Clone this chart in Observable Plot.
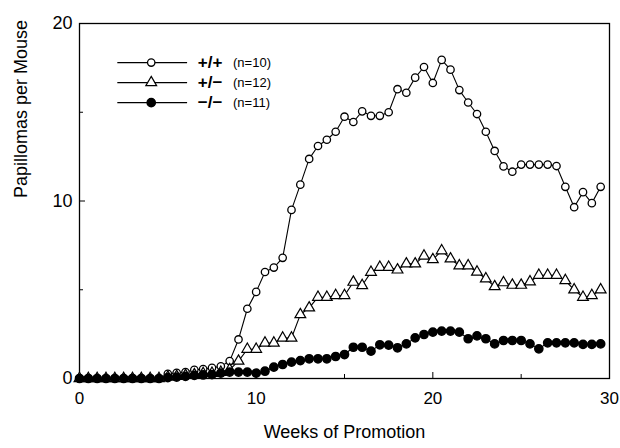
<!DOCTYPE html>
<html><head><meta charset="utf-8">
<script src="https://cdn.jsdelivr.net/npm/d3@7"></script>
<script src="https://cdn.jsdelivr.net/npm/@observablehq/plot@0.6"></script>
<style>body{margin:0;background:#fff} svg{display:block}</style>
</head><body><div id="chart"></div>
<script>
const weeks = [0,0.5,1,1.5,2,2.5,3,3.5,4,4.5,5,5.5,6,6.5,7,7.5,8,8.5,9,9.5,10,10.5,11,11.5,12,12.5,13,13.5,14,14.5,15,15.5,16,16.5,17,17.5,18,18.5,19,19.5,20,20.5,21,21.5,22,22.5,23,23.5,24,24.5,25,25.5,26,26.5,27,27.5,28,28.5,29,29.5];
const wildType = [0,0,0,0,0,0,0,0,0,0,0.26,0.32,0.36,0.49,0.53,0.6,0.69,0.98,2.2,3.93,4.88,6.0,6.25,6.8,9.5,10.92,12.37,13.1,13.45,13.9,14.75,14.45,15.05,14.8,14.8,15.0,16.3,16.1,16.95,17.55,16.65,17.95,17.4,16.25,15.55,14.9,13.9,12.82,11.95,11.65,12.05,12.05,12.05,12.05,11.97,10.8,9.65,10.5,9.88,10.8];
const heterozygous = [0,0,0,0,0,0,0,0,0,0,0.08,0.12,0.18,0.22,0.28,0.3,0.35,0.5,0.98,1.65,1.65,2.0,2.0,2.28,2.28,3.6,3.98,4.58,4.58,4.68,4.68,5.43,5.24,5.99,6.27,6.27,6.12,6.46,6.46,6.9,6.7,7.2,6.74,6.35,6.35,6.0,5.62,5.18,5.4,5.26,5.26,5.45,5.82,5.82,5.82,5.52,5.0,4.58,4.68,5.0];
const knockout = [0,0,0,0,0,0,0,0,0,0,0.05,0.08,0.12,0.18,0.2,0.22,0.3,0.36,0.36,0.36,0.3,0.41,0.64,0.79,0.92,1.01,1.11,1.11,1.11,1.24,1.35,1.76,1.76,1.54,1.9,1.88,1.73,1.95,2.29,2.48,2.61,2.67,2.67,2.61,2.24,2.4,2.24,1.95,2.14,2.14,2.14,1.95,1.67,2.01,2.01,2.01,2.01,1.92,1.92,1.95];
const genotypeLabels = ["+/+", "+/\u2212", "\u2212/\u2212"];
const groupSizes = ["(n=10)", "(n=12)", "(n=11)"];
const xTickLabels = [0, 10, 20, 30];
const xMinorTicks = [5, 15, 25];
const yTickLabels = [0, 10, 20];
const yMinorTicks = [5, 15];
const xTitle = "Weeks of Promotion";
const yTitle = "Papillomas per Mouse";

// layout
const W = 620, H = 448, mL = 79, mR = 11, mT = 23, mB = 70;
const plotW = W - mL - mR, plotH = H - mT - mB;
const font = "'Liberation Sans', Arial, Helvetica, sans-serif";

const toRows = (vals) => weeks.map((w, i) => ({week: w, value: vals[i]}));
const wtRows = toRows(wildType), hetRows = toRows(heterozygous), koRows = toRows(knockout);

// legend layout (data units)
const legendRows = genotypeLabels.map((g, i) => ({label: g, n: groupSizes[i], row: i}));
const legTop = 17.8, legStep = 1.13;
const legY = d => legTop - d.row * legStep;
const lineOpts = {x: "week", y: "value", stroke: "black", strokeWidth: 1.1};

const chart = Plot.plot({
  width: W, height: H,
  marginLeft: mL, marginRight: mR, marginTop: mT, marginBottom: mB,
  x: {domain: [0, 30]},
  y: {domain: [0, 20]},
  style: {fontFamily: font, fontSize: "18px", color: "black", background: "white"},
  marks: [
    Plot.frame({stroke: "black", strokeWidth: 1.3}),
    Plot.ruleX(xTickLabels, {x: d => d, insetTop: plotH - 6, stroke: "black"}),
    Plot.ruleX(xMinorTicks, {x: d => d, insetTop: plotH - 4, stroke: "black"}),
    Plot.ruleY(yTickLabels, {y: d => d, insetRight: plotW - 6, stroke: "black"}),
    Plot.ruleY(yMinorTicks, {y: d => d, insetRight: plotW - 4, stroke: "black"}),
    Plot.axisX({ticks: xTickLabels, tickSize: 0, tickPadding: 13, label: null, fontSize: 17}),
    Plot.axisY({ticks: yTickLabels, tickSize: 0, tickPadding: 7, label: null, fontSize: 18}),
    Plot.text([xTitle], {frameAnchor: "bottom", dy: 59, text: d => d, fontSize: 18}),
    Plot.text([yTitle], {frameAnchor: "left", dx: -58, dy: -3, rotate: -90, text: d => d, fontSize: 18}),
    // series
    Plot.line(wtRows, lineOpts),
    Plot.dot(wtRows, {x: "week", y: "value", r: 3.7, fill: "white", stroke: "black", strokeWidth: 1.3}),
    Plot.line(hetRows, lineOpts),
    Plot.dot(hetRows, {x: "week", y: "value", symbol: "triangle", r: 4, fill: "white", stroke: "black", strokeWidth: 1.2}),
    Plot.line(koRows, lineOpts),
    Plot.dot(koRows, {x: "week", y: "value", r: 4.1, fill: "black", stroke: "black"}),
    // legend
    Plot.link(legendRows, {x1: () => 2.14, x2: () => 6.09, y1: legY, y2: legY, stroke: "black", strokeWidth: 1.2}),
    Plot.dot(legendRows.filter(d => d.row === 0), {x: () => 4.06, y: legY, r: 3.7, fill: "white", stroke: "black", strokeWidth: 1.3}),
    Plot.dot(legendRows.filter(d => d.row === 1), {x: () => 4.06, y: legY, symbol: "triangle", r: 4, fill: "white", stroke: "black", strokeWidth: 1.2}),
    Plot.dot(legendRows.filter(d => d.row === 2), {x: () => 4.06, y: legY, r: 4.1, fill: "black", stroke: "black"}),
    Plot.text(legendRows, {x: () => 6.7, y: legY, text: "label", textAnchor: "start", fontWeight: "bold", fontSize: 17}),
    Plot.text(legendRows, {x: () => 8.69, y: legY, text: "n", textAnchor: "start", fontSize: 13})
  ]
});
document.getElementById("chart").appendChild(chart);
</script>
</body></html>
